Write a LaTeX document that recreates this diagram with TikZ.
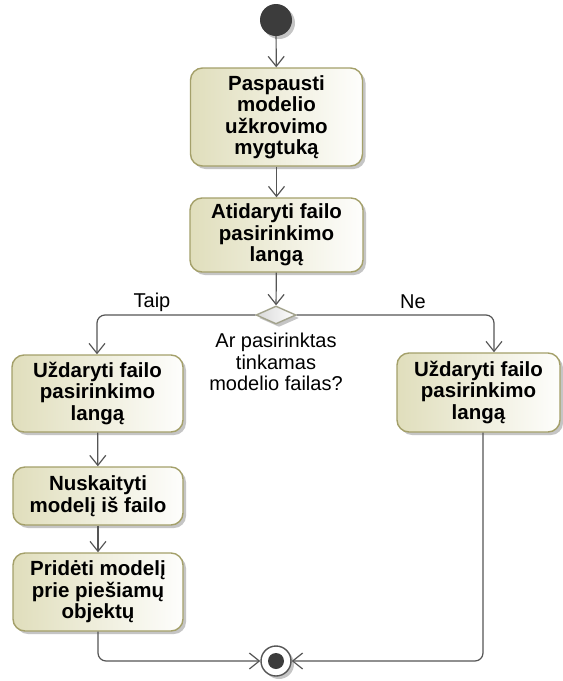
\documentclass[tikz,border=0pt]{standalone}
\usepackage{fontspec}
\setmainfont{Liberation Sans}
\usetikzlibrary{arrows.meta,shapes.geometric,shadows}
\definecolor{edge}{HTML}{555555}
\definecolor{actborder}{HTML}{A4A06A}
\definecolor{actfill}{HTML}{E0DEBC}
\definecolor{dotfill}{HTML}{3C3C3C}
\definecolor{decborder}{HTML}{A2A28C}
\definecolor{decfill}{HTML}{D8D8D8}

\begin{document}
\begin{tikzpicture}[x=1pt,y=-1pt,
  softshadow/.style={drop shadow={shadow xshift=3pt,shadow yshift=-3pt,fill=black!45,opacity=0.5}},
  actbox/.style={draw=actborder, line width=1.4pt, rounded corners=12pt,
    left color=actfill, right color=white!96!actfill, softshadow,
    font=\fontsize{20.5}{21.5}\selectfont\bfseries, align=center, inner sep=0pt},
  lbl/.style={font=\fontsize{20}{21.5}\selectfont, align=center, inner sep=0pt},
  flow/.style={draw=edge, line width=1.2pt, -{Straight Barb[length=10pt,width=16pt]}},
  decision/.style={diamond, draw=decborder, line width=1.4pt, left color=decfill, right color=white,
    minimum width=40pt, minimum height=18pt, inner sep=0pt, softshadow},
  startnode/.style={circle, fill=dotfill, minimum size=32pt, inner sep=0pt, softshadow},
  endnode/.style={circle, draw=edge, line width=1.4pt, fill=white, minimum size=30pt, inner sep=0pt, softshadow,
    path picture={\fill[dotfill] (path picture bounding box.center) circle (8pt);}}
]
\fill[white] (0,0) rectangle (563,681);
\useasboundingbox (0,0) rectangle (563,681);

% initial and final nodes
\node[startnode] (start) at (276,20) {};
\node[endnode] (final) at (276,661) {};

% main column
\node[actbox, minimum width=172pt, minimum height=98pt] (press) at (276.5,117)
  {Paspausti\\modelio\\užkrovimo\\mygtuką};
\node[actbox, minimum width=173pt, minimum height=74pt] (open) at (276.5,235)
  {Atidaryti failo\\pasirinkimo\\langą};
\node[decision] (dec) at (276,315) {};
\node[lbl] (question) at (276,362) {Ar pasirinktas\\tinkamas\\modelio failas?};

% "yes" branch
\node[actbox, minimum width=171pt, minimum height=77pt] (closeyes) at (97.5,393.5)
  {Uždaryti failo\\pasirinkimo\\langą};
\node[actbox, minimum width=170pt, minimum height=58pt] (read) at (98,496)
  {Nuskaityti\\modelį iš failo};
\node[actbox, minimum width=170pt, minimum height=78pt] (add) at (98,592)
  {Pridėti modelį\\prie piešiamų\\objektų};

% "no" branch
\node[actbox, minimum width=163pt, minimum height=79pt] (closeno) at (478.5,392.5)
  {Uždaryti failo\\pasirinkimo\\langą};

% guard labels
\node[lbl] (taip) at (152,302) {Taip};
\node[lbl] (ne) at (413,302) {Ne};

% control flow
\draw[flow] (start) -- (press);
\draw[flow] (press) -- (open);
\draw[flow] (open) -- (dec);
\draw[flow, rounded corners=8pt] (dec.west) -| ([xshift=-0.5pt]closeyes.north);
\draw[flow, rounded corners=8pt] (dec.east) -| ([xshift=15.5pt]closeno.north);
\draw[flow] (closeyes) -- (read);
\draw[flow] (read) -- (add);
\draw[flow, rounded corners=8pt] (add.south) |- (final.west);
\draw[flow, rounded corners=8pt] ([xshift=4.5pt]closeno.south) |- (final.east);
\end{tikzpicture}
\end{document}
